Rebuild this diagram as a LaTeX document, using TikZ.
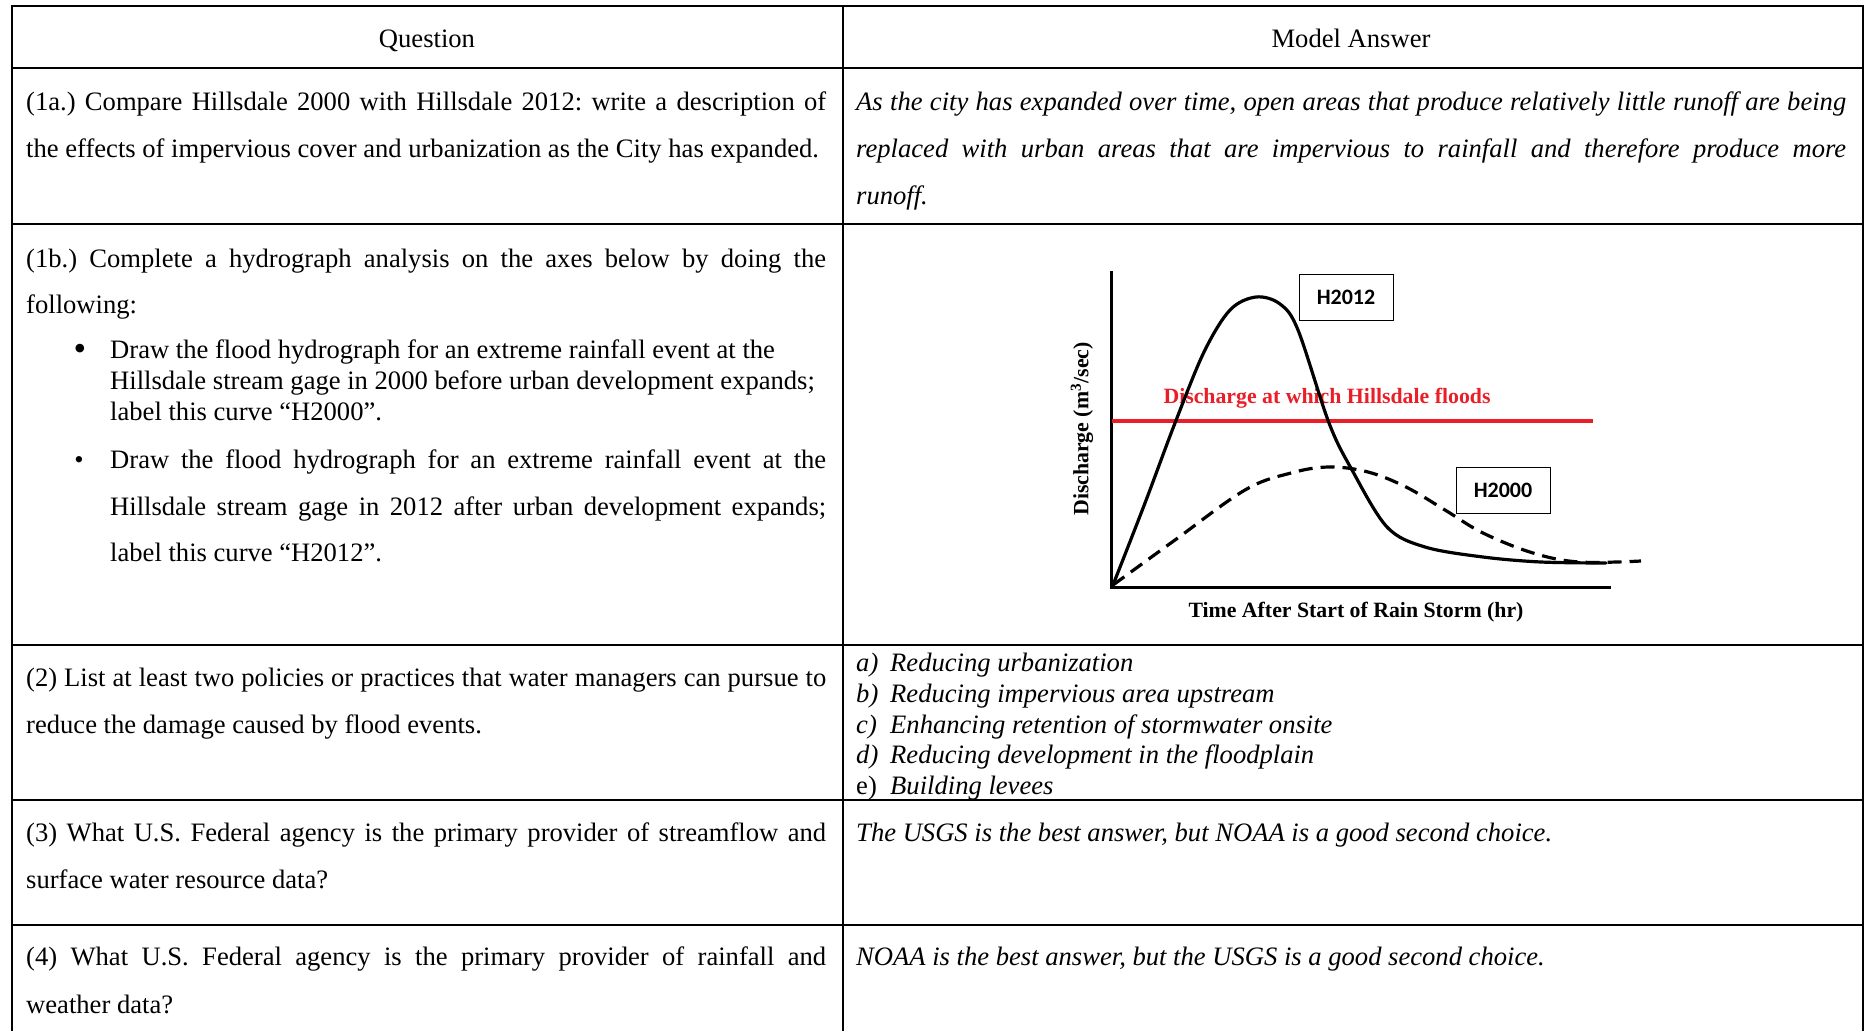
\documentclass[tikz,border=0pt]{standalone}
\usepackage{fontspec}
\setmainfont{Liberation Serif}
\newfontfamily\calib{Carlito}
\definecolor{floodred}{RGB}{235,30,40}
\newcommand\justline[2]{\makebox[#1pt][s]{#2}}
\frenchspacing
\begin{document}
\begin{tikzpicture}[x=1pt,y=-1pt,
  txt/.style={anchor=base west, inner sep=0pt, font=\fontsize{26.6}{31}\selectfont},
  itx/.style={anchor=base west, inner sep=0pt, font=\fontsize{26.6}{31}\selectfont\itshape},
  grid/.style={line width=1.8pt},
  hbox/.style={draw, line width=1pt, minimum width=94pt, minimum height=46pt, inner sep=0pt, font=\calib\bfseries\fontsize{22}{26}\selectfont},
  axlab/.style={inner sep=0pt, font=\bfseries\fontsize{21.8}{24}\selectfont},
  axis/.style={line width=3pt},
  curve/.style={line width=3.2pt, line join=round, line cap=round}
]
\useasboundingbox (0,0) rectangle (1870,1031);
\fill[white] (0,0) rectangle (1870,1031);
% table rules
\draw[grid] (12,1031) -- (12,6) -- (1863,6) -- (1863,1031);
\draw[grid] (843,6) -- (843,1031);
\foreach \yy in {68,224,645,800,925} \draw[grid] (12,\yy) -- (1863,\yy);
% header
\node[txt, anchor=base] (hq) at (427,47) {Question};
\node[txt, anchor=base] (ha) at (1351,47) {Model Answer};
% row 1a
\node[txt] (q1a1) at (26,110) {\justline{800}{(1a.) Compare Hillsdale 2000 with Hillsdale 2012: write a description of}};
\node[txt] (q1a2) at (26,157) {the effects of impervious cover and urbanization as the City has expanded.};
\node[itx] (a1a1) at (856,110) {\justline{990}{As the city has expanded over time, open areas that produce relatively little runoff are being}};
\node[itx] (a1a2) at (856,157) {\justline{990}{replaced with urban areas that are impervious to rainfall and therefore produce more}};
\node[itx] (a1a3) at (856,204) {runoff.};
% row 1b
\node[txt] (q1b1) at (26,267) {\justline{800}{(1b.) Complete a hydrograph analysis on the axes below by doing the}};
\node[txt] (q1b2) at (26,313) {following:};
\node[txt, anchor=base, font=\fontsize{36}{36}\selectfont] (bul1) at (80,360) {•};
\node[txt] (q1b3) at (110,358) {Draw the flood hydrograph for an extreme rainfall event at the};
\node[txt] (q1b4) at (110,389) {Hillsdale stream gage in 2000 before urban development expands;};
\node[txt] (q1b5) at (110,420) {label this curve “H2000”.};
\node[txt, anchor=base] (bul2) at (79,468) {•};
\node[txt] (q1b6) at (110,468) {\justline{716}{Draw the flood hydrograph for an extreme rainfall event at the}};
\node[txt] (q1b7) at (110,515) {\justline{716}{Hillsdale stream gage in 2012 after urban development expands;}};
\node[txt] (q1b8) at (110,561) {label this curve “H2012”.};
% row 2
\node[txt] (q21) at (26,686) {\justline{800}{(2) List at least two policies or practices that water managers can pursue to}};
\node[txt] (q22) at (26,733) {reduce the damage caused by flood events.};
\node[itx] (a2al) at (856,671) {a)};
\node[itx] (a2a) at (890,671) {Reducing urbanization};
\node[itx] (a2bl) at (856,702) {b)};
\node[itx] (a2b) at (890,702) {Reducing impervious area upstream};
\node[itx] (a2cl) at (856,733) {c)};
\node[itx] (a2c) at (890,733) {Enhancing retention of stormwater onsite};
\node[itx] (a2dl) at (856,763) {d)};
\node[itx] (a2d) at (890,763) {Reducing development in the floodplain};
\node[txt] (a2el) at (856,794) {e)};
\node[itx] (a2e) at (890,794) {Building levees};
% row 3
\node[txt] (q31) at (26,841) {\justline{800}{(3) What U.S. Federal agency is the primary provider of streamflow and}};
\node[txt] (q32) at (26,888) {surface water resource data?};
\node[itx] (a3) at (856,841) {The USGS is the best answer, but NOAA is a good second choice.};
% row 4
\node[txt] (q41) at (26,965) {\justline{800}{(4) What U.S. Federal agency is the primary provider of rainfall and}};
\node[txt] (q42) at (26,1013) {weather data?};
\node[itx] (a4) at (856,965) {NOAA is the best answer, but the USGS is a good second choice.};
% hydrograph
\coordinate (ytop) at (1111.5,271);
\coordinate (orig) at (1111.5,587);
\coordinate (xend) at (1611,587);
\coordinate (fl0) at (1111.5,421);
\coordinate (fl1) at (1593,421);
\draw[axis] (ytop) -- (orig) -- (xend);
\draw[floodred, line width=3.2pt] (fl0) -- (fl1);
\node[axlab, text=floodred] (fllab) at (1327,398) {Discharge at which Hillsdale floods};
\node[axlab, rotate=90] (ylab) at (1082,429) {Discharge (m\textsuperscript{3}/sec)};
\node[axlab] (xlab) at (1356,612) {Time After Start of Rain Storm (hr)};
\node[hbox] (h12) at (1346,297) {H2012};
\node[hbox] (h00) at (1503,490) {H2000};
\draw[curve] plot[smooth, tension=0.55] coordinates {(1113,585) (1145,503) (1175,423) (1204,352) (1230,310) (1256,297) (1280,304) (1298,330) (1329,423) (1352,470) (1387,527) (1425,547) (1483,557) (1541,562) (1606,563)};
\draw[curve, line cap=butt, dash pattern=on 14pt off 8pt] plot[smooth, tension=0.6] coordinates {(1113,585) (1175,540) (1245,490) (1291,473) (1329,467) (1368,472) (1406,487) (1445,510) (1483,533) (1533,553) (1579,562) (1641,561)};
\end{tikzpicture}
\end{document}
